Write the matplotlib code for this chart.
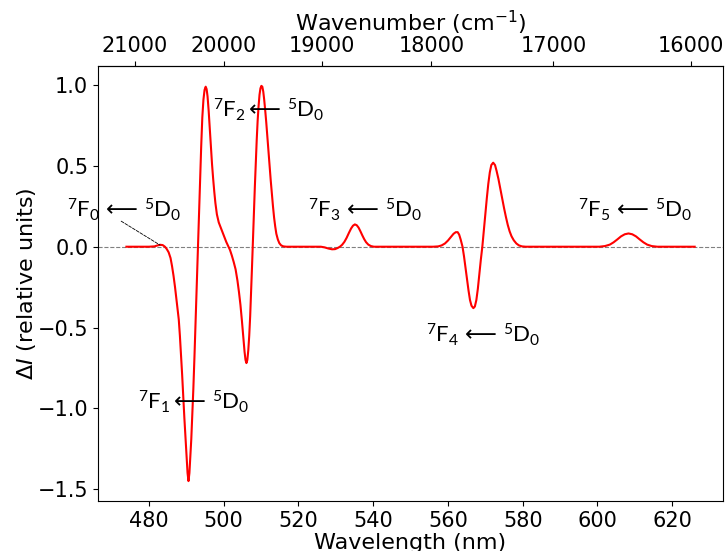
import matplotlib
matplotlib.use('Agg')
import matplotlib.pyplot as plt
import numpy as np

plt.rcParams.update({
    'font.size': 15,
    'mathtext.rm': 'Lato',
    'mathtext.it': 'Lato:italic',
    'mathtext.bf': 'Lato:bold',
    'mathtext.sf': 'DejaVu Sans',
    'mathtext.fallback': 'stixsans',
})

# difference spectrum (nm, relative units)
wavelength = [474, 480, 481.5, 482.3, 483.0, 483.7, 484.3, 484.8, 485.3, 485.8, 486.2,
              486.6, 487.0, 487.4, 487.7, 488.0, 488.3, 488.6, 488.9, 489.2, 489.5,
              489.8, 490.1, 490.35, 490.6, 490.85, 491.1, 491.35, 491.6, 491.9, 492.2,
              492.5, 492.8, 493.1, 493.4, 493.7, 494.0, 494.3, 494.6, 494.9, 495.2,
              495.45, 495.7, 496.0, 496.3, 496.6, 496.9, 497.2, 497.5, 497.8, 498.2,
              498.7, 499.2, 499.7, 500.2, 500.7, 501.2, 501.7, 502.2, 502.7, 503.2,
              503.7, 504.1, 504.5, 504.9, 505.3, 505.6, 505.85, 506.1, 506.35, 506.6,
              506.85, 507.1, 507.35, 507.6, 507.85, 508.1, 508.35, 508.6, 508.85, 509.1,
              509.35, 509.6, 509.85, 510.1, 510.35, 510.6, 510.85, 511.1, 511.4, 511.7,
              512.0, 512.3, 512.6, 512.9, 513.2, 513.5, 513.8, 514.1, 514.5, 514.9,
              515.4, 516.0, 516.8,
              526, 527, 528, 529, 529.8, 530.5, 531.1, 531.7, 532.3, 532.9, 533.5,
              534.1, 534.6, 535.1, 535.6, 536.1, 536.6, 537.1, 537.6, 538.1, 538.7,
              539.4, 540.2,
              556, 557.4, 558.3, 559.2, 560.0, 560.8, 561.5, 562.1, 562.6, 563.0,
              563.4, 563.9, 564.3, 564.7, 565.1, 565.5, 565.9, 566.3, 566.8, 567.2,
              567.6, 568.0, 568.4, 568.8, 569.2, 569.6, 570.0, 570.4, 570.8, 571.2,
              571.6, 572.1, 572.6, 573.0, 573.5, 574.0, 574.5, 575.0, 575.5, 576.0,
              576.5, 577.0, 577.6, 578.3, 579.0, 579.8, 580.8,
              600.5, 602, 603.3, 604.3, 605.3, 606.3, 607.3, 608.3, 609.3, 610.3,
              611.3, 612.3, 613.3, 614.5, 616, 626]
delta_i = [0, 0, 0.002, 0.008, 0.012, 0.01, 0.0, -0.015, -0.035, -0.07, -0.12,
           -0.18, -0.25, -0.33, -0.39, -0.45, -0.55, -0.67, -0.79, -0.93, -1.06,
           -1.18, -1.31, -1.40, -1.45, -1.40, -1.30, -1.19, -1.05, -0.88, -0.68,
           -0.46, -0.24, -0.03, 0.18, 0.40, 0.62, 0.80, 0.91, 0.97, 0.99,
           0.975, 0.93, 0.84, 0.73, 0.62, 0.51, 0.42, 0.34, 0.27, 0.20,
           0.15, 0.12, 0.09, 0.06, 0.03, 0.005, -0.02, -0.055, -0.095, -0.14,
           -0.21, -0.28, -0.36, -0.46, -0.57, -0.65, -0.70, -0.72, -0.70, -0.64,
           -0.55, -0.43, -0.28, -0.12, 0.05, 0.21, 0.37, 0.52, 0.66, 0.78,
           0.87, 0.94, 0.98, 0.995, 0.99, 0.96, 0.91, 0.85, 0.77, 0.68,
           0.59, 0.50, 0.41, 0.33, 0.25, 0.18, 0.125, 0.08, 0.045, 0.022,
           0.008, 0.002, 0,
           0, -0.004, -0.011, -0.016, -0.015, -0.008, 0.0, 0.012, 0.03, 0.055, 0.085,
           0.113, 0.13, 0.138, 0.133, 0.118, 0.095, 0.07, 0.047, 0.028, 0.013,
           0.004, 0,
           0, 0.002, 0.008, 0.02, 0.038, 0.06, 0.08, 0.09, 0.09, 0.075,
           0.045, 0.0, -0.06, -0.13, -0.2, -0.27, -0.33, -0.365, -0.38, -0.37,
           -0.33, -0.26, -0.17, -0.08, 0.0, 0.1, 0.2, 0.3, 0.39, 0.46,
           0.505, 0.52, 0.505, 0.47, 0.42, 0.36, 0.30, 0.24, 0.185, 0.135,
           0.095, 0.065, 0.04, 0.02, 0.008, 0.002, 0,
           0, 0.004, 0.013, 0.027, 0.045, 0.064, 0.077, 0.082, 0.077, 0.064,
           0.045, 0.027, 0.013, 0.004, 0, 0]

# transition labels: (text, x, y) in data coords (left edge, baseline)
labels = [
    (r'$^{7}$F$_{0}\,\mathsf{\longleftarrow}\,$$^{5}$D$_{0}$', 458.1, 0.185),
    (r'$^{7}$F$_{1}\mathsf{\longleftarrow}\,$$^{5}$D$_{0}$', 477.1, -1.005),
    (r'$^{7}$F$_{2}\mathsf{\longleftarrow}\,$$^{5}$D$_{0}$', 497.2, 0.80),
    (r'$^{7}$F$_{3}\,\mathsf{\longleftarrow}\,$$^{5}$D$_{0}$', 522.7, 0.185),
    (r'$^{7}$F$_{4}\,\mathsf{\longleftarrow}\,$$^{5}$D$_{0}$', 554.1, -0.59),
    (r'$^{7}$F$_{5}\,\mathsf{\longleftarrow}\,$$^{5}$D$_{0}$', 594.9, 0.185),
]
f0_line_start = (472.6, 0.158)
f0_line_end = (483.0, 0.010)
top_ticks = [21000, 20000, 19000, 18000, 17000, 16000]

fig = plt.figure(figsize=(7.26, 5.51), dpi=100)
ax = fig.add_axes([0.135, 0.091, 0.861, 0.789])

ax.axhline(0, color='gray', linestyle='--', linewidth=0.8)
ax.plot(wavelength, delta_i, color='red', linewidth=1.5)

for txt, x, y in labels:
    ax.text(x, y, txt, fontsize=16, family='Lato',
            math_fontfamily='custom', ha='left', va='baseline', clip_on=False)
ax.annotate('', xy=f0_line_end, xytext=f0_line_start,
            arrowprops=dict(arrowstyle='-', linestyle='--', color='black',
                            linewidth=0.6, shrinkA=0, shrinkB=0))

ax.set_xticks([480, 500, 520, 540, 560, 580, 600, 620])
ax.set_yticks([-1.5, -1.0, -0.5, 0.0, 0.5, 1.0])
ax.set_xlabel('Wavelength (nm)', fontsize=16, labelpad=2)
ax.set_ylabel(r'$\Delta I$ (relative units)', fontsize=16, labelpad=0)

secax = ax.secondary_xaxis('top', functions=(lambda x: 1e7 / x, lambda x: 1e7 / x))
secax.set_xticks(top_ticks)
secax.set_xlabel('Wavenumber (cm$^{-1}$)', fontsize=16, labelpad=4)

fig.savefig('out.png', dpi=100)
